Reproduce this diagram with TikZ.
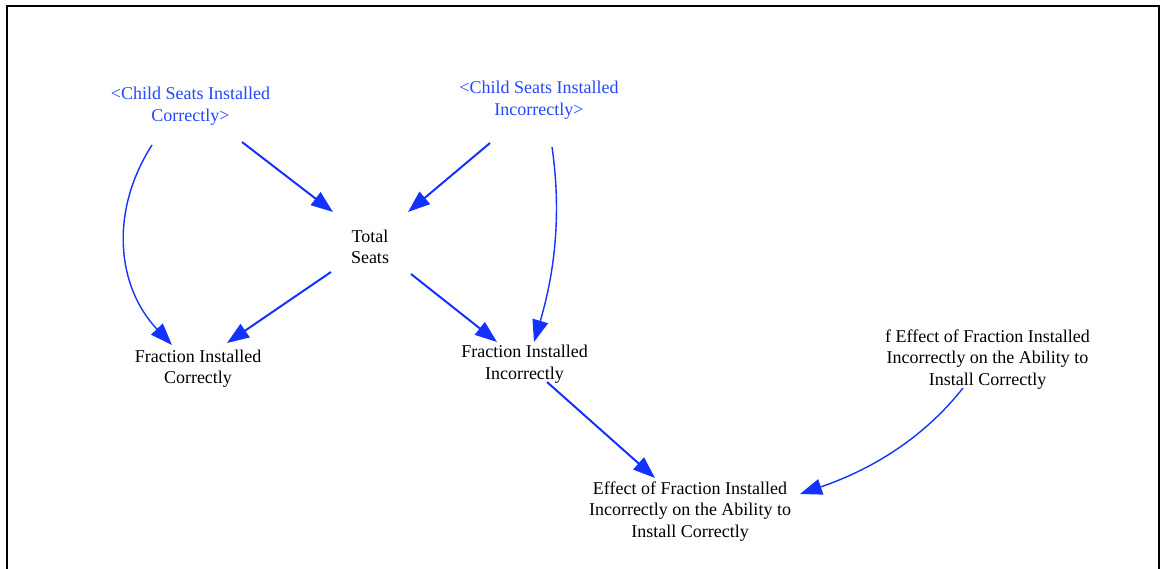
\documentclass[tikz,border=0pt]{standalone}
\usepackage{fontspec}
\setmainfont{Liberation Serif}
\usetikzlibrary{arrows.meta}
\definecolor{vblue}{RGB}{20,50,255}
\definecolor{tblue}{RGB}{35,70,255}
\begin{document}
\begin{tikzpicture}[x=1pt,y=-1pt,
  lbl/.style={align=center,font=\fontsize{18}{21.5}\selectfont,inner sep=0pt},
  shadowvar/.style={lbl,text=tblue},
  arr/.style={draw=vblue,line width=2pt,-{Triangle[length=22pt,width=16pt]}},
  carr/.style={arr,line width=1.4pt}]
\useasboundingbox (0,0) rectangle (1160,569);
\draw[line width=2pt] (7,575) -- (7,6) -- (1159,6) -- (1159,575);

\node[shadowvar] (csic) at (190.5,106) {<Child Seats Installed\\Correctly>};
\node[shadowvar] (csii) at (539,100) {<Child Seats Installed\\Incorrectly>};
\node[lbl] (total) at (370,247) {Total\\Seats};
\node[lbl] (fic) at (198,368.5) {Fraction Installed\\Correctly};
\node[lbl] (fii) at (524.5,364) {Fraction Installed\\Incorrectly};
\node[lbl] (eff) at (690,511.5) {Effect of Fraction Installed\\Incorrectly on the Ability to\\Install Correctly};
\node[lbl] (feff) at (987.5,359.5) {f Effect of Fraction Installed\\Incorrectly on the Ability to\\Install Correctly};

\draw[arr] ([shift={(51.5,36)}]csic.center) -- ([shift={(-37,-35)}]total.center);
\draw[carr] ([shift={(-38.5,39)}]csic.center) .. controls (109,212) and (117,287) .. ([shift={(-26,-23.5)}]fic.center);
\draw[arr] ([shift={(-39,25)}]total.center) -- ([shift={(29,-25.5)}]fic.center);
\draw[arr] ([shift={(-49,43)}]csii.center) -- ([shift={(38,-35)}]total.center);
\draw[carr] ([shift={(13,47)}]csii.center) .. controls (562,216) and (554,275) .. ([shift={(9.5,-22)}]fii.center);
\draw[arr] ([shift={(41,27)}]total.center) -- ([shift={(-27.5,-22)}]fii.center);
\draw[arr] ([shift={(22.5,18)}]fii.center) -- ([shift={(-35,-33.5)}]eff.center);
\draw[carr] ([shift={(-24.5,28.5)}]feff.center) .. controls (926,435) and (876,468) .. ([shift={(110,-17.5)}]eff.center);
\end{tikzpicture}
\end{document}
